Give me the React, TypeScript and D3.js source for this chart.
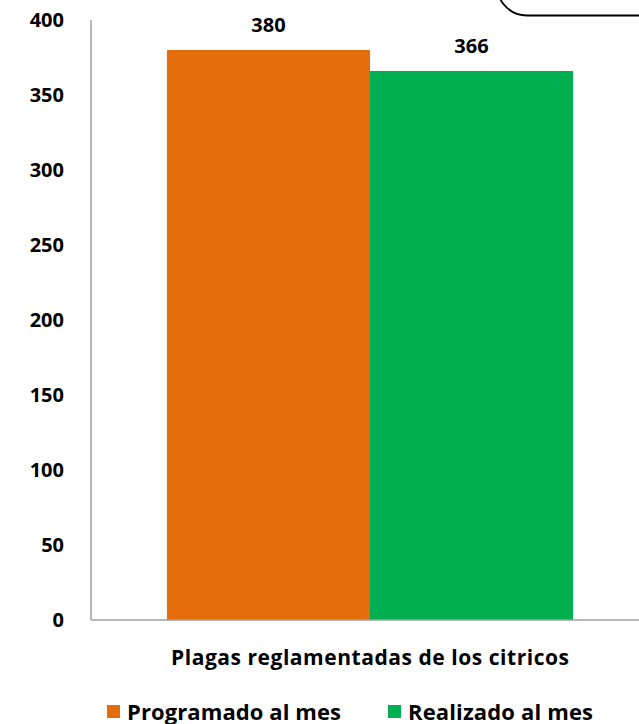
import React from "react";
import * as d3 from "d3";

const categories = ["Plagas reglamentadas de los citricos"];
const seriesNames = ["Programado al mes", "Realizado al mes"];
const programado = [380];
const realizado = [366];
const yTicks = [0, 50, 100, 150, 200, 250, 300, 350, 400];
const colors = ["#E46C0A", "#00B050"];

export default function App() {
  const W = 639, H = 724;
  const x0 = 91, xEnd = 649, yTop = 20, yBot = 620;
  const y = d3.scaleLinear().domain([0, 400]).range([yBot, yTop]);
  const xc = d3.scaleBand().domain(categories).range([x0, xEnd]).paddingInner(0).paddingOuter(0.187);
  const xs = d3.scaleBand().domain(seriesNames).range([0, xc.bandwidth()]);
  const values = [programado, realizado];
  const font = "'Open Sans', 'Liberation Sans', sans-serif";
  return (
    <svg width={W} height={H} style={{ position: "absolute", left: 0, top: 0 }} fontFamily={font} fontWeight="bold">
      <rect x={0} y={0} width={W} height={H} fill="#fff" />
      <rect x={497} y={-60} width={200} height={75.5} rx={30} ry={30} fill="none" stroke="#000" strokeWidth={1.8} />
      {yTicks.map((t) => (
        <text key={t} x={64} y={y(t) + 7} textAnchor="end" fontSize={20} fill="#000">{t}</text>
      ))}
      {categories.map((c, ci) =>
        seriesNames.map((s, si) => {
          const v = values[si][ci];
          const bx = (xc(c) as number) + (xs(s) as number);
          const bw = xs.bandwidth();
          return (
            <g key={c + s}>
              <rect x={bx} y={y(v)} width={bw} height={y(0) - y(v)} fill={colors[si]} />
              <text x={bx + bw / 2} y={y(v) - 18} textAnchor="middle" fontSize={20} fill="#000">{v}</text>
            </g>
          );
        })
      )}
      <line x1={x0} x2={x0} y1={yTop} y2={yBot} stroke="#A0A0A0" strokeWidth={1.5} />
      <line x1={x0} x2={W} y1={yBot} y2={yBot} stroke="#A0A0A0" strokeWidth={1.5} />
      {categories.map((c) => (
        <text key={c} x={(xc(c) as number) + xc.bandwidth() / 2} y={665} textAnchor="middle" fontSize={21} fill="#000" textLength={398} lengthAdjust="spacing">{c}</text>
      ))}
      {seriesNames.map((s, i) => {
        const lx = [107, 388][i];
        const tl = [214, 185][i];
        return (
          <g key={s}>
            <rect x={lx} y={705} width={13} height={13} fill={colors[i]} />
            <text x={lx + 20} y={720} fontSize={22} fill="#000" textLength={tl} lengthAdjust="spacing">{s}</text>
          </g>
        );
      })}
    </svg>
  );
}
